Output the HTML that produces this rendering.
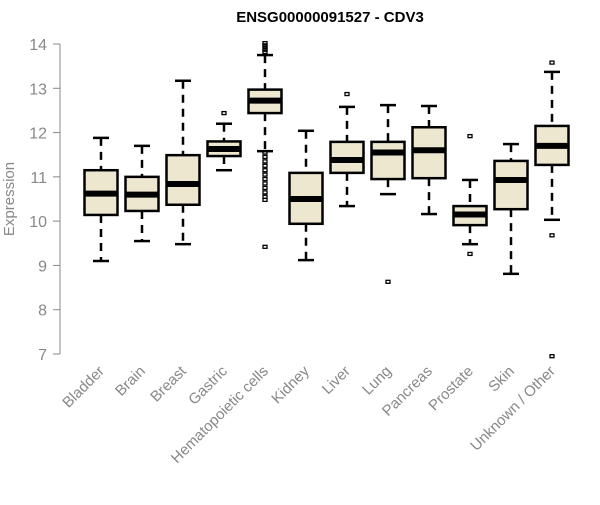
<!DOCTYPE html>
<html><head><meta charset="utf-8"><style>
body{margin:0;background:#fff}
svg{font-family:"Liberation Sans",sans-serif}
</style></head><body>
<svg id="c" width="600" height="500">
<text x="330" y="22" text-anchor="middle" font-weight="bold" font-size="15">ENSG00000091527 - CDV3</text>
<text transform="translate(14,199) rotate(-90)" text-anchor="middle" font-size="15" fill="#888">Expression</text>
</svg>
<script>
const categories=["Bladder","Brain","Breast","Gastric","Hematopoietic cells","Kidney","Liver","Lung","Pancreas","Prostate","Skin","Unknown / Other"];
const lows=[9.1,9.55,9.48,11.15,11.58,9.12,10.34,10.61,10.16,9.48,8.81,10.03];
const q1s=[10.14,10.23,10.37,11.47,12.44,9.94,11.09,10.95,10.97,9.91,10.27,11.27];
const medians=[10.62,10.6,10.84,11.63,12.72,10.5,11.38,11.55,11.6,10.15,10.93,11.7];
const q3s=[11.15,11.0,11.49,11.8,12.97,11.09,11.79,11.79,12.12,10.34,11.36,12.15];
const highs=[11.88,11.7,13.17,12.2,13.75,12.04,12.58,12.62,12.6,10.93,11.74,13.37];
const outliers=[[],[],[],[12.44],[14.02,13.97,13.92,13.87,13.82,11.55,11.45,11.35,11.25,11.15,11.05,10.95,10.85,10.75,10.65,10.55,10.48,9.42],[],[12.87],[8.63],[],[11.92,9.26],[],[13.58,9.68,6.95]];
const yTicks=[7,8,9,10,11,12,13,14];
const svg=document.getElementById('c');const NS='http://www.w3.org/2000/svg';
const y=v=>44+(14-v)*(310/7);
const x=i=>101+41*i;
function mk(t,a,p){const e=document.createElementNS(NS,t);for(const k in a)e.setAttribute(k,a[k]);(p||svg).appendChild(e);return e;}
const ax=mk('g',{});


mk('line',{x1:60,x2:60,y1:y(14),y2:y(7),stroke:'#888'},ax);
yTicks.forEach(t=>{mk('line',{x1:53,x2:60,y1:y(t),y2:y(t),stroke:'#888'},ax);
const tx=mk('text',{x:47,y:y(t)+6,'text-anchor':'end','font-size':16,fill:'#888'},ax);tx.textContent=t;

});
categories.forEach((c,i)=>{const cx=x(i),w=16.5;
const g=mk('g',{});


mk('line',{x1:cx,x2:cx,y1:y(highs[i]),y2:y(q3s[i]),stroke:'#000','stroke-width':2.5,'stroke-dasharray':'8,6'},g);
mk('line',{x1:cx,x2:cx,y1:y(q1s[i]),y2:y(lows[i]),stroke:'#000','stroke-width':2.5,'stroke-dasharray':'8,6'},g);
mk('line',{x1:cx-8,x2:cx+8,y1:y(highs[i]),y2:y(highs[i]),stroke:'#000','stroke-width':2.5},g);
mk('line',{x1:cx-8,x2:cx+8,y1:y(lows[i]),y2:y(lows[i]),stroke:'#000','stroke-width':2.5},g);
mk('rect',{x:cx-w,y:y(q3s[i]),width:2*w,height:y(q1s[i])-y(q3s[i]),fill:'#ede7d0',stroke:'#000','stroke-width':2.5},g);
mk('line',{x1:cx-w,x2:cx+w,y1:y(medians[i]),y2:y(medians[i]),stroke:'#000','stroke-width':6},g);
outliers[i].forEach(o=>mk('rect',{x:cx-2,y:y(o)-1.5,width:4,height:3,fill:'none',stroke:'#000','stroke-width':1.3},g));
const lb=mk('text',{transform:`translate(${cx+4},${372}) rotate(-45)`,'text-anchor':'end','font-size':15,fill:'#888'});lb.textContent=c;

});
</script>
</body></html>
